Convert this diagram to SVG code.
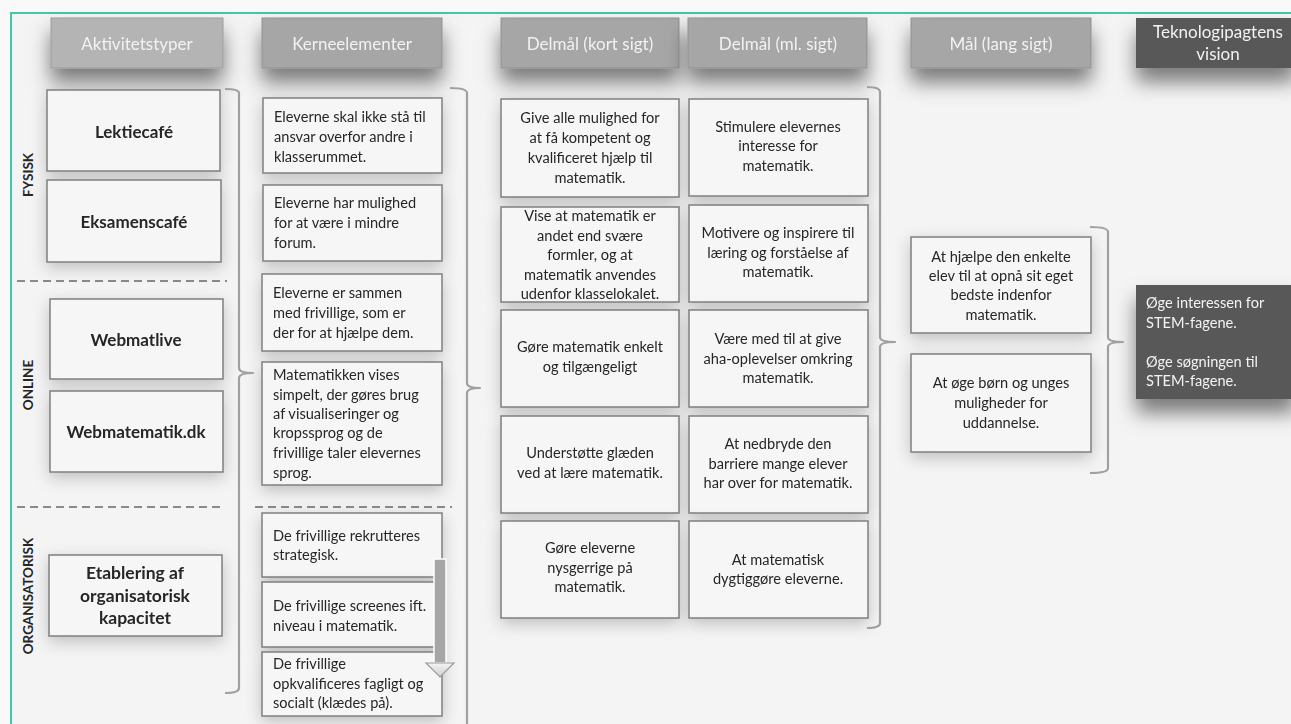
<svg xmlns="http://www.w3.org/2000/svg" width="1291" height="724" viewBox="0 0 1291 724">
<style>
text{font-family:Lato,"Liberation Sans",sans-serif;fill:#262626}
.hd{font-size:17px;fill:#f2f2f2;text-anchor:middle}
.bx{fill:#f6f6f6;stroke:#7f7f7f;stroke-width:1.5}
.t{font-size:14.6px}
.c{text-anchor:middle}
.b{font-weight:bold;font-size:17px;text-anchor:middle}
.rot{font-weight:bold;font-size:13.5px;text-anchor:middle}
.br{fill:none;stroke:#a0a0a0;stroke-width:2.2;stroke-linejoin:round}
.dash{stroke:#8a8a8a;stroke-width:2;stroke-dasharray:8 5}
.vt{font-size:14.6px;fill:#f2f2f2}
</style>
<defs>
<filter id="hs" x="-30%" y="-40%" width="160%" height="220%">
<feDropShadow dx="0" dy="14" stdDeviation="10" flood-color="#000" flood-opacity="0.5"/>
</filter>
<filter id="bs" x="-20%" y="-20%" width="140%" height="150%">
<feDropShadow dx="0" dy="5" stdDeviation="8" flood-color="#000" flood-opacity="0.22"/>
</filter>
<linearGradient id="ag" x1="0" y1="0" x2="0" y2="1">
<stop offset="0" stop-color="#f4f4f4"/><stop offset="1" stop-color="#cfcfcf"/>
</linearGradient>
</defs>
<rect width="1291" height="724" fill="#f9f9f9"/>
<rect x="11" y="13" width="1300" height="730" fill="#f4f4f4" stroke="#40c8a8" stroke-width="2"/>

<g id="headers">
<g id="h1" filter="url(#hs)"><rect x="51" y="18" width="172" height="50" fill="#b4b4b4" stroke="#9a9a9a"/><text class="hd" x="137" y="50">Aktivitetstyper</text></g>
<g id="h2" filter="url(#hs)"><rect x="262" y="18" width="180" height="50" fill="#a6a6a6" stroke="#8f8f8f"/><text class="hd" x="352" y="50">Kerneelementer</text></g>
<g id="h3" filter="url(#hs)"><rect x="501" y="18" width="178" height="50" fill="#a6a6a6" stroke="#8f8f8f"/><text class="hd" x="590" y="50">Delmål (kort sigt)</text></g>
<g id="h4" filter="url(#hs)"><rect x="688" y="18" width="179" height="50" fill="#a6a6a6" stroke="#8f8f8f"/><text class="hd" x="778" y="50">Delmål (ml. sigt)</text></g>
<g id="h5" filter="url(#hs)"><rect x="911" y="18" width="180" height="50" fill="#a6a6a6" stroke="#8f8f8f"/><text class="hd" x="1001" y="50">Mål (lang sigt)</text></g>
<g id="h6" filter="url(#hs)"><rect x="1136" y="18" width="160" height="50" fill="#595959"/><text class="hd" x="1218" y="38">Teknologipagtens</text><text class="hd" x="1218" y="60">vision</text></g>
</g>

<g id="labels">
<text class="rot" transform="rotate(-90 33 175)" x="33" y="175">FYSISK</text>
<text class="rot" transform="rotate(-90 33 385)" x="33" y="385">ONLINE</text>
<text class="rot" transform="rotate(-90 33 596)" x="33" y="596">ORGANISATORISK</text>
</g>

<g id="dividers">
<line class="dash" x1="17" y1="281" x2="227" y2="281"/>
<line class="dash" x1="17" y1="507" x2="224" y2="507"/>
<line class="dash" x1="255" y1="507" x2="452" y2="507"/>
</g>

<g id="activities">
<g id="a1" filter="url(#bs)"><rect class="bx" x="47" y="90" width="173" height="81"/><text class="b" x="134" y="138">Lektiecafé</text></g>
<g id="a2" filter="url(#bs)"><rect class="bx" x="47" y="180" width="174" height="82"/><text class="b" x="134" y="228">Eksamenscafé</text></g>
<g id="a3" filter="url(#bs)"><rect class="bx" x="50" y="299" width="173" height="80"/><text class="b" x="136" y="346">Webmatlive</text></g>
<g id="a4" filter="url(#bs)"><rect class="bx" x="50" y="391" width="173" height="81"/><text class="b" x="136" y="438">Webmatematik.dk</text></g>
<g id="a5" filter="url(#bs)"><rect class="bx" x="49" y="555" width="173" height="81"/><text class="b" x="135" y="579" style="font-size:17.5px">Etablering af</text><text class="b" x="135" y="602" style="font-size:17.5px">organisatorisk</text><text class="b" x="135" y="624" style="font-size:17.5px">kapacitet</text></g>
</g>

<g id="kerne">
<g id="k1" filter="url(#bs)"><rect class="bx" x="263" y="98" width="179" height="75"/><text class="t" x="274" y="122">Eleverne skal ikke stå til</text><text class="t" x="274" y="142">ansvar overfor andre i</text><text class="t" x="274" y="162">klasserummet.</text></g>
<g id="k2" filter="url(#bs)"><rect class="bx" x="263" y="185" width="179" height="76"/><text class="t" x="274" y="208">Eleverne har mulighed</text><text class="t" x="274" y="228">for at være i mindre</text><text class="t" x="274" y="248">forum.</text></g>
<g id="k3" filter="url(#bs)"><rect class="bx" x="262" y="274" width="180" height="77"/><text class="t" x="273" y="298">Eleverne er sammen</text><text class="t" x="273" y="318">med frivillige, som er</text><text class="t" x="273" y="338">der for at hjælpe dem.</text></g>
<g id="k4" filter="url(#bs)"><rect class="bx" x="262" y="362" width="180" height="123"/><text class="t" x="273" y="380">Matematikken vises</text><text class="t" x="273" y="400">simpelt, der gøres brug</text><text class="t" x="273" y="419">af visualiseringer og</text><text class="t" x="273" y="438">kropssprog og de</text><text class="t" x="273" y="458">frivillige taler elevernes</text><text class="t" x="273" y="478">sprog.</text></g>
<g id="k5" filter="url(#bs)"><rect class="bx" x="262" y="513" width="180" height="64"/><text class="t" x="273" y="541">De frivillige rekrutteres</text><text class="t" x="273" y="560">strategisk.</text></g>
<g id="k6" filter="url(#bs)"><rect class="bx" x="262" y="582" width="180" height="65"/><text class="t" x="273" y="611">De frivillige screenes ift.</text><text class="t" x="273" y="631">niveau i matematik.</text></g>
<g id="k7" filter="url(#bs)"><rect class="bx" x="262" y="652" width="180" height="64"/><text class="t" x="273" y="669">De frivillige</text><text class="t" x="273" y="689">opkvalificeres fagligt og</text><text class="t" x="273" y="708">socialt (klædes på).</text></g>
</g>

<g id="kort">
<g id="d1" filter="url(#bs)"><rect class="bx" x="501" y="99" width="178" height="98"/><text class="t c" x="590" y="123">Give alle mulighed for</text><text class="t c" x="590" y="143">at få kompetent og</text><text class="t c" x="590" y="163">kvalificeret hjælp til</text><text class="t c" x="590" y="183">matematik.</text></g>
<g id="d2" filter="url(#bs)"><rect class="bx" x="501" y="207" width="178" height="95"/><text class="t c" x="590" y="221">Vise at matematik er</text><text class="t c" x="590" y="241">andet end svære</text><text class="t c" x="590" y="260">formler, og at</text><text class="t c" x="590" y="280">matematik anvendes</text><text class="t c" x="590" y="299">udenfor klasselokalet.</text></g>
<g id="d3" filter="url(#bs)"><rect class="bx" x="501" y="310" width="178" height="97"/><text class="t c" x="590" y="352">Gøre matematik enkelt</text><text class="t c" x="590" y="372">og tilgængeligt</text></g>
<g id="d4" filter="url(#bs)"><rect class="bx" x="501" y="416" width="178" height="97"/><text class="t c" x="590" y="458">Understøtte glæden</text><text class="t c" x="590" y="478">ved at lære matematik.</text></g>
<g id="d5" filter="url(#bs)"><rect class="bx" x="501" y="521" width="178" height="97"/><text class="t c" x="590" y="553">Gøre eleverne</text><text class="t c" x="590" y="573">nysgerrige på</text><text class="t c" x="590" y="592">matematik.</text></g>
</g>

<g id="ml">
<g id="m1" filter="url(#bs)"><rect class="bx" x="689" y="99" width="179" height="97"/><text class="t c" x="778" y="132">Stimulere elevernes</text><text class="t c" x="778" y="151">interesse for</text><text class="t c" x="778" y="171">matematik.</text></g>
<g id="m2" filter="url(#bs)"><rect class="bx" x="689" y="205" width="179" height="97"/><text class="t c" x="778" y="238">Motivere og inspirere til</text><text class="t c" x="778" y="258">læring og forståelse af</text><text class="t c" x="778" y="277">matematik.</text></g>
<g id="m3" filter="url(#bs)"><rect class="bx" x="689" y="310" width="179" height="97"/><text class="t c" x="778" y="344">Være med til at give</text><text class="t c" x="778" y="364">aha-oplevelser omkring</text><text class="t c" x="778" y="383">matematik.</text></g>
<g id="m4" filter="url(#bs)"><rect class="bx" x="689" y="416" width="179" height="97"/><text class="t c" x="778" y="449">At nedbryde den</text><text class="t c" x="778" y="469">barriere mange elever</text><text class="t c" x="778" y="488">har over for matematik.</text></g>
<g id="m5" filter="url(#bs)"><rect class="bx" x="689" y="521" width="179" height="97"/><text class="t c" x="778" y="565">At matematisk</text><text class="t c" x="778" y="584">dygtiggøre eleverne.</text></g>
</g>

<g id="maal">
<g id="g1" filter="url(#bs)"><rect class="bx" x="911" y="237" width="180" height="96"/><text class="t c" x="1001" y="262">At hjælpe den enkelte</text><text class="t c" x="1001" y="281">elev til at opnå sit eget</text><text class="t c" x="1001" y="300">bedste indenfor</text><text class="t c" x="1001" y="320">matematik.</text></g>
<g id="g2" filter="url(#bs)"><rect class="bx" x="911" y="354" width="180" height="98"/><text class="t c" x="1001" y="388">At øge børn og unges</text><text class="t c" x="1001" y="408">muligheder for</text><text class="t c" x="1001" y="428">uddannelse.</text></g>
</g>

<g id="vision" filter="url(#hs)"><rect x="1136" y="285" width="160" height="114" fill="#595959"/><text class="vt" x="1146" y="308">Øge interessen for</text><text class="vt" x="1146" y="328">STEM-fagene.</text><text class="vt" x="1146" y="367">Øge søgningen til</text><text class="vt" x="1146" y="386">STEM-fagene.</text></g>

<g id="connectors">
<path class="br" d="M225,89 Q239,89 239,93 L239,368 Q239,373 253,373 Q239,373 239,378 L239,688 Q239,693 225,693"/>
<path class="br" d="M450,88 Q467,88 467,93 L467,383 Q467,388 480,388 Q467,388 467,393 L467,740"/>
<path class="br" d="M867,87 Q880,87 880,92 L880,337 Q880,342 895,342 Q880,342 880,347 L880,623 Q880,628 867,628"/>
<path class="br" d="M1090,227 Q1108,227 1108,232 L1108,337 Q1108,342 1123,342 Q1108,342 1108,347 L1108,468 Q1108,473 1090,473"/>
<g id="arrow">
<rect x="434" y="559" width="12" height="104" fill="#a6a6a6" stroke="#ffffff" stroke-width="1.5"/>
<path d="M426,663 L454,663 L440,677 Z" fill="url(#ag)" stroke="#9a9a9a" stroke-width="1.2"/>
</g>
</g>
</svg>
